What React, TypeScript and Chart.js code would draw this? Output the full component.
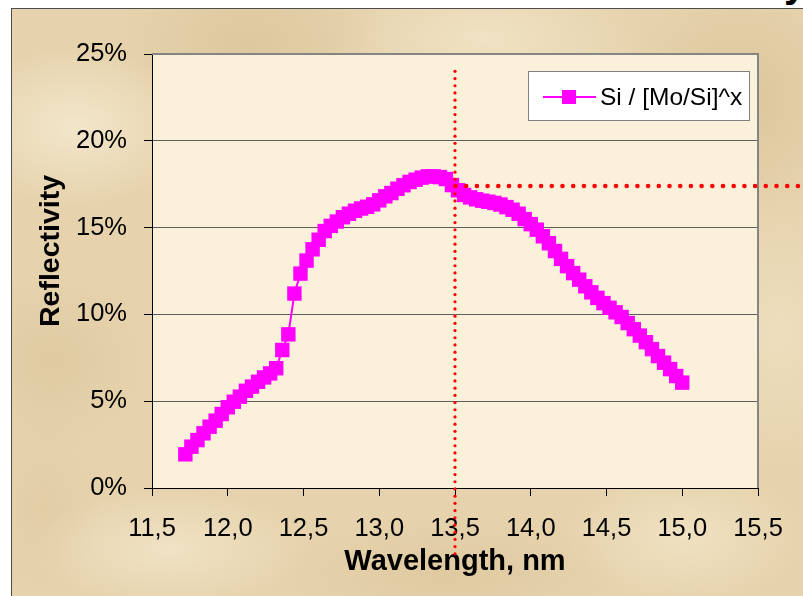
import React, { useEffect, useRef } from "react";
import { Chart, registerables } from "chart.js";

Chart.register(...registerables);

// ---------- data ----------
const wavelengths = [
  11.72, 11.76, 11.8, 11.84, 11.88, 11.92, 11.96, 12.0, 12.04, 12.08,
  12.12, 12.16, 12.2, 12.24, 12.28, 12.32, 12.36, 12.4, 12.44, 12.48,
  12.52, 12.56, 12.6, 12.64, 12.68, 12.72, 12.76, 12.8, 12.84, 12.88,
  12.92, 12.96, 13.0, 13.04, 13.08, 13.12, 13.16, 13.2, 13.24, 13.28,
  13.32, 13.36, 13.4, 13.44, 13.48, 13.52, 13.56, 13.6, 13.64, 13.68,
  13.72, 13.76, 13.8, 13.84, 13.88, 13.92, 13.96, 14.0, 14.04, 14.08,
  14.12, 14.16, 14.2, 14.24, 14.28, 14.32, 14.36, 14.4, 14.44, 14.48,
  14.52, 14.56, 14.6, 14.64, 14.68, 14.72, 14.76, 14.8, 14.84, 14.88,
  14.92, 14.96, 15.0,
];

const reflectivity = [
  1.94, 2.38, 2.76, 3.15, 3.53, 3.88, 4.26, 4.65, 4.97, 5.26,
  5.6, 5.84, 6.12, 6.37, 6.6, 6.9, 7.95, 8.85, 11.2, 12.35,
  13.1, 13.75, 14.3, 14.8, 15.1, 15.35, 15.6, 15.8, 15.97, 16.1,
  16.2, 16.34, 16.57, 16.8, 16.99, 17.24, 17.44, 17.63, 17.76, 17.88,
  17.95, 17.95, 17.91, 17.8, 17.45, 17.15, 16.88, 16.74, 16.63, 16.55,
  16.49, 16.42, 16.33, 16.18, 16.03, 15.8, 15.49, 15.2, 14.88, 14.5,
  14.1, 13.65, 13.2, 12.78, 12.38, 12.0, 11.62, 11.27, 10.95, 10.65,
  10.38, 10.12, 9.85, 9.5, 9.15, 8.78, 8.4, 8.0, 7.6, 7.22,
  6.85, 6.45, 6.07,
];

const seriesLabel = "Si / [Mo/Si]^x";
const xTitle = "Wavelength, nm";
const yTitle = "Reflectivity";
const topFragment = "y";

const xRange = [11.5, 15.5];
const xStep = 0.5;
const yRange = [0, 25];
const yStep = 5;

// red dotted guide lines (data units)
const guideWavelength = 13.5;
const guideReflectivity = 17.4;
const guideVerticalFrom = 24.0;
const guideVerticalTo = -3.85;

// ---------- styles ----------
const FONT = "'Liberation Sans', Arial, Helvetica, sans-serif";
const MAGENTA = "#FF00FF";
const PLOT_BG = "#FBF0DA";

const plotBackground = {
  id: "plotBackground",
  beforeDraw(chart: any) {
    const { ctx, chartArea: a } = chart;
    ctx.save();
    ctx.fillStyle = PLOT_BG;
    ctx.fillRect(a.left, a.top, a.right - a.left, a.bottom - a.top);
    ctx.restore();
  },
};

const plotFrame = {
  id: "plotFrame",
  beforeDatasetsDraw(chart: any) {
    const { ctx, chartArea: a } = chart;
    ctx.save();
    ctx.strokeStyle = "#858585";
    ctx.lineWidth = 2;
    ctx.beginPath();
    ctx.moveTo(a.left, a.top);
    ctx.lineTo(a.right, a.top);
    ctx.lineTo(a.right, a.bottom);
    ctx.stroke();
    ctx.restore();
  },
};

const guides = {
  id: "guides",
  afterDatasetsDraw(chart: any) {
    const { ctx } = chart;
    const xs = chart.scales.x;
    const ys = chart.scales.y;
    const gx = xs.getPixelForValue(guideWavelength);
    const gy = ys.getPixelForValue(guideReflectivity);
    const vTop = ys.getPixelForValue(guideVerticalFrom);
    const vBot = ys.getPixelForValue(guideVerticalTo);
    ctx.save();
    ctx.fillStyle = "#FF0000";
    for (let y = vTop; y <= vBot; y += 7.2) {
      ctx.beginPath();
      ctx.arc(gx, y, 1.6, 0, Math.PI * 2);
      ctx.fill();
    }
    for (let x = gx + 0.5; x <= chart.width + 3; x += 10.7) {
      ctx.beginPath();
      ctx.arc(x, gy, 2.3, 0, Math.PI * 2);
      ctx.fill();
    }
    ctx.restore();
  },
};

const boxLegend = {
  id: "boxLegend",
  afterDraw(chart: any) {
    const { ctx } = chart;
    const ds = chart.data.datasets[0];
    const bx = 528.5, by = 71.5, bw = 221, bh = 49;
    ctx.save();
    ctx.fillStyle = "#FFFFFF";
    ctx.fillRect(bx, by, bw, bh);
    ctx.strokeStyle = "#808080";
    ctx.lineWidth = 1;
    ctx.strokeRect(bx, by, bw, bh);
    const cy = 97;
    ctx.strokeStyle = ds.borderColor;
    ctx.lineWidth = 2;
    ctx.beginPath();
    ctx.moveTo(543, cy);
    ctx.lineTo(596, cy);
    ctx.stroke();
    ctx.fillStyle = ds.pointBackgroundColor;
    ctx.fillRect(562, cy - 7, 14, 14);
    ctx.fillStyle = "#000000";
    ctx.font = `24.5px ${FONT}`;
    ctx.textAlign = "left";
    ctx.textBaseline = "alphabetic";
    ctx.fillText(ds.label, 600, 105);
    ctx.restore();
  },
};

const yAxisTitle = {
  id: "yAxisTitle",
  afterDraw(chart: any) {
    const { ctx } = chart;
    ctx.save();
    ctx.translate(58.5, 251);
    ctx.rotate(-Math.PI / 2);
    ctx.fillStyle = "#000000";
    ctx.font = `bold 28.5px ${FONT}`;
    ctx.textAlign = "center";
    ctx.textBaseline = "alphabetic";
    ctx.fillText(yTitle, 0, 0);
    ctx.restore();
  },
};

function ReflectivityChart() {
  const ref = useRef<HTMLCanvasElement | null>(null);

  useEffect(() => {
    if (!ref.current) return;
    const points = wavelengths.map((w, i) => ({ x: w, y: reflectivity[i] }));
    const chart = new Chart(ref.current, {
      type: "line",
      data: {
        datasets: [
          {
            label: seriesLabel,
            data: points,
            borderColor: MAGENTA,
            borderWidth: 2,
            pointStyle: "rect",
            pointRadius: 10.2,
            pointBorderWidth: 0,
            pointBackgroundColor: MAGENTA,
            pointBorderColor: MAGENTA,
            tension: 0,
            clip: false,
          } as any,
        ],
      },
      options: {
        responsive: false,
        animation: false,
        devicePixelRatio: 1,
        events: [],
        layout: { padding: { top: 54, right: 45, left: 0, bottom: 0 } },
        plugins: {
          legend: { display: false },
          tooltip: { enabled: false },
        },
        scales: {
          x: {
            type: "linear",
            min: xRange[0],
            max: xRange[1],
            afterFit: (s: any) => {
              s.height = 108;
            },
            ticks: {
              stepSize: xStep,
              color: "#000",
              padding: 18,
              font: { family: FONT, size: 25.5 },
              callback: (v: any) => Number(v).toFixed(1).replace(".", ","),
            },
            grid: {
              drawOnChartArea: false,
              drawTicks: true,
              tickLength: 8,
              color: "#000",
              tickColor: "#000",
              lineWidth: 1,
            },
            border: { display: true, color: "#000", width: 1 },
            title: {
              display: true,
              text: xTitle,
              color: "#000",
              font: { family: FONT, size: 29, weight: "bold" },
              padding: { top: 0, bottom: 17 },
            },
          },
          y: {
            type: "linear",
            min: yRange[0],
            max: yRange[1],
            afterFit: (s: any) => {
              s.width = 152;
            },
            ticks: {
              stepSize: yStep,
              color: "#000",
              padding: 17,
              font: { family: FONT, size: 25.5 },
              callback: (v: any) => `${v}%`,
            },
            grid: {
              drawOnChartArea: true,
              drawTicks: true,
              tickLength: 8,
              color: "#5E5E5E",
              tickColor: "#000",
              lineWidth: 1,
            },
            border: { display: true, color: "#000", width: 1 },
          },
        },
      } as any,
      plugins: [plotBackground, plotFrame, guides, boxLegend, yAxisTitle],
    });
    return () => chart.destroy();
  }, []);

  return (
    <canvas
      ref={ref}
      width={803}
      height={596}
      style={{ position: "absolute", left: 0, top: 0, width: 803, height: 596 }}
    />
  );
}

export default function App() {
  const parchment = {
    position: "absolute" as const,
    left: 11,
    top: 8,
    width: 792,
    height: 588,
    boxSizing: "border-box" as const,
    borderLeft: "1px solid #4d4d4d",
    borderTop: "1px solid #4d4d4d",
    backgroundColor: "#E6D3AD",
    backgroundImage: [
      "radial-gradient(ellipse 120px 80px at 8% 20%, rgba(246,236,212,0.75), transparent)",
      "radial-gradient(ellipse 140px 90px at 30% 6%, rgba(214,190,146,0.55), transparent)",
      "radial-gradient(ellipse 160px 70px at 60% 5%, rgba(244,232,205,0.7), transparent)",
      "radial-gradient(ellipse 120px 120px at 92% 15%, rgba(212,186,140,0.55), transparent)",
      "radial-gradient(ellipse 90px 140px at 97% 55%, rgba(240,226,196,0.7), transparent)",
      "radial-gradient(ellipse 100px 90px at 5% 60%, rgba(216,194,150,0.5), transparent)",
      "radial-gradient(ellipse 140px 60px at 20% 92%, rgba(244,232,206,0.7), transparent)",
      "radial-gradient(ellipse 180px 60px at 55% 96%, rgba(214,190,146,0.45), transparent)",
      "radial-gradient(ellipse 120px 70px at 85% 90%, rgba(244,232,204,0.65), transparent)",
      "radial-gradient(ellipse 60px 100px at 4% 85%, rgba(222,200,158,0.5), transparent)",
    ].join(","),
  };
  return (
    <div style={{ position: "absolute", left: 0, top: 0, width: 803, height: 596, overflow: "hidden", background: "#FFFFFF" }}>
      <div style={parchment} />
      <div
        style={{
          position: "absolute",
          left: 780,
          top: 0,
          width: 23,
          height: 8,
          overflow: "hidden",
        }}
      >
        <span
          style={{
            position: "absolute",
            left: 4,
            top: -37,
            fontFamily: FONT,
            fontWeight: "bold",
            fontSize: 40,
            lineHeight: "40px",
            color: "#000",
          }}
        >
          {topFragment}
        </span>
      </div>
      <ReflectivityChart />
    </div>
  );
}
